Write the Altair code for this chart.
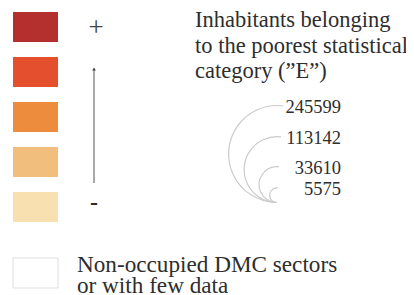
import math
import altair as alt
import pandas as pd

# ---- data ----
class_ids = ["5", "4", "3", "2", "1"]
class_colors = ["#B3302E", "#E4502E", "#EE8C3E", "#F2BE7E", "#F9E0B0"]
bubble_values = [245599, 113142, 33610, 5575]
bubble_labels = ["245599", "113142", "33610", "5575"]
title_lines = ["Inhabitants belonging", "to the poorest statistical", "category (\u201dE\u201d)"]
nodata_lines = ["Non-occupied DMC sectors", "or with few data"]
nodata_id = ["none"]

SERIF = "Liberation Serif"
TXT = "#2e2e2e"

squares_df = pd.DataFrame({"cls": class_ids, "color": class_colors})
bubbles_df = pd.DataFrame({"value": bubble_values, "label": bubble_labels})
nodata_df = pd.DataFrame({"cls": nodata_id})

vmax = max(bubble_values)
smax = math.sqrt(vmax)
RMAX = 48.5  # pixel radius of the largest bubble

# left half-circle outline in unit coordinates (radius 1)
HALF_CIRCLE = "M 0.12,-0.993 A 1,1 0 1,0 -0.03,0.9995"

squares = alt.Chart(squares_df).mark_rect().encode(
    x=alt.value(5), x2=alt.value(50),
    y=alt.Y("cls:N", axis=None,
            scale=alt.Scale(domain=class_ids, range=[4, 214], paddingInner=0.333, paddingOuter=0)),
    fill=alt.Fill("color:N", scale=None, legend=None),
)

nodata = alt.Chart(nodata_df).mark_rect(fill="white", stroke="#dedede", strokeWidth=1).encode(
    x=alt.value(5), x2=alt.value(50),
    y=alt.Y("cls:N", axis=None,
            scale=alt.Scale(domain=nodata_id, range=[250, 280], paddingInner=0, paddingOuter=0)),
)

nodata_text = alt.Chart(nodata_df).mark_text(
    text=nodata_lines, font=SERIF, fontSize=23.2, color=TXT, align="left",
    baseline="alphabetic", lineHeight=21,
).encode(x=alt.value(69), y=alt.value(264))

plus = alt.Chart(nodata_df).mark_text(
    text="+", font=SERIF, fontSize=27, color="#444444", align="center", baseline="middle"
).encode(x=alt.value(88), y=alt.value(20))

minus = alt.Chart(nodata_df).mark_text(
    text="-", font=SERIF, fontSize=24, fontWeight="bold", color=TXT, align="center", baseline="middle"
).encode(x=alt.value(86), y=alt.value(195))

arrow_line = alt.Chart(nodata_df).mark_rule(color="#555555", strokeWidth=1).encode(
    x=alt.value(86), y=alt.value(62), y2=alt.value(175)
)
arrow_head = alt.Chart(nodata_df).mark_point(
    shape="triangle-up", filled=True, size=14, color="#444444", opacity=1
).encode(x=alt.value(86), y=alt.value(61))

title = alt.Chart(nodata_df).mark_text(
    text=title_lines, font=SERIF, fontSize=22.5, color=TXT, align="left",
    baseline="alphabetic", lineHeight=25.5,
).encode(x=alt.value(187), y=alt.value(19))

# centre of each bubble sits RMAX*sqrt(v/vmax) above the common bottom line
yscale = alt.Scale(domain=[0, smax], range=[194.5, 194.5 - RMAX], zero=False, nice=False)

arcs = alt.Chart(bubbles_df).transform_calculate(
    s="sqrt(datum.value)"
).mark_point(
    shape=HALF_CIRCLE, filled=False, stroke="#cbcbcb", strokeWidth=1.2, opacity=1,
).encode(
    x=alt.value(269),
    y=alt.Y("s:Q", scale=yscale, axis=None),
    size=alt.Size("value:Q", legend=None,
                  scale=alt.Scale(type="linear", domain=[0, vmax], range=[0, 4 * RMAX * RMAX], zero=True, nice=False)),
)

labels = alt.Chart(bubbles_df).transform_calculate(
    top="2*sqrt(datum.value)"
).mark_text(
    font=SERIF, fontSize=18.5, color=TXT, align="right", baseline="middle", dy=1,
).encode(
    x=alt.value(333),
    y=alt.Y("top:Q", scale=yscale, axis=None),
    text="label:N",
)

chart = alt.layer(
    squares, nodata, nodata_text, plus, minus, arrow_line, arrow_head, title, arcs, labels
).resolve_scale(y="independent", size="independent").properties(
    width=398, height=287, autosize=alt.AutoSizeParams(type="none"), padding=0,
    background="white",
).configure_view(stroke=None)

chart.save("out.html", embed_options={"renderer": "svg", "actions": False})
